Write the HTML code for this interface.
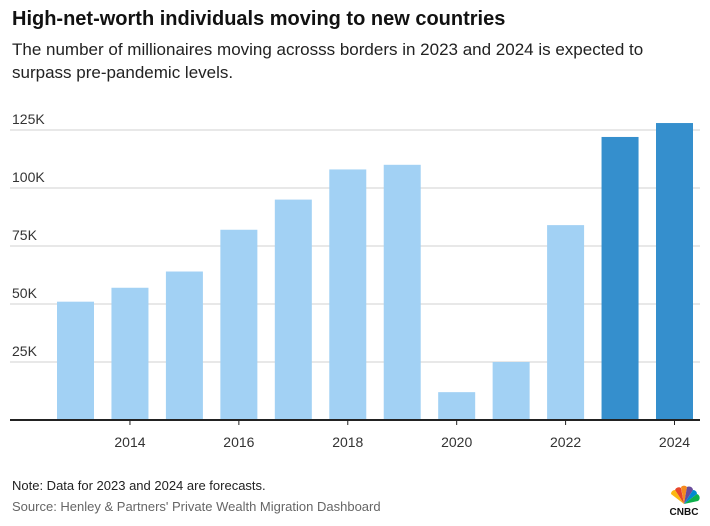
<!DOCTYPE html>
<html><head><meta charset="utf-8"><style>
body{margin:0;background:#fff;font-family:"Liberation Sans",sans-serif;}
#wrap{position:relative;width:710px;height:526px;overflow:hidden;}
.t{position:absolute;white-space:nowrap;}
</style></head><body>
<div id="wrap">
<div class="t" style="left:12px;top:8px;font-size:20px;font-weight:bold;color:#111;">High-net-worth individuals moving to new countries</div>
<div class="t" style="left:12px;top:38px;font-size:17px;color:#222;line-height:23px;white-space:normal;width:690px;">The number of millionaires moving acrosss borders in 2023 and 2024 is expected to surpass pre-pandemic levels.</div>
<svg id="chart" width="710" height="526" style="position:absolute;left:0;top:0"></svg>
<div class="t" style="left:12px;top:478px;font-size:13px;color:#222;">Note: Data for 2023 and 2024 are forecasts.</div>
<div class="t" style="left:12px;top:499px;font-size:13px;color:#666;">Source: Henley &amp; Partners' Private Wealth Migration Dashboard</div>
<svg width="36" height="36" style="position:absolute;left:666px;top:482px">
<path d="M18 22 L9 8 A4 4 0 0 1 15 6Z" fill="#e8462b"/><path d="M18 22 L15 5 A4 4 0 0 1 21 5Z" fill="#f68b1f"/><path d="M18 22 L21 5 A4 4 0 0 1 27 8Z" fill="#6a4c9c"/>
<path d="M18 22 L5 12 A4 4 0 0 1 9 8Z" fill="#fcb711"/><path d="M18 22 L27 8 A4 4 0 0 1 31 12Z" fill="#0089d0"/><path d="M18 22 L31 12 A4 4 0 0 1 32 19Z" fill="#0db14b"/>
<text x="18" y="33" text-anchor="middle" font-size="10" font-weight="bold" fill="#111" font-family="Liberation Sans,sans-serif">CNBC</text></svg>
</div>
<script>
const years=[2013,2014,2015,2016,2017,2018,2019,2020,2021,2022,2023,2024];
const values=[51,57,64,82,95,108,110,12,25,84,122,128];
const forecast=[false,false,false,false,false,false,false,false,false,false,true,true];
const yTicks=[25,50,75,100,125];
const yTickLabels=["25K","50K","75K","100K","125K"];
const xTickYears=[2014,2016,2018,2020,2022,2024];
const svg=document.getElementById('chart');const NS='http://www.w3.org/2000/svg';
const y0=420,pxPer=58/25;
const ys=v=>y0-v*pxPer;
const x0=75.5,step=(674.5-75.5)/11;
const xs=yr=>x0+(yr-years[0])*step;
function mk(tag,attrs){const e=document.createElementNS(NS,tag);for(const k in attrs)e.setAttribute(k,attrs[k]);svg.appendChild(e);return e;}
yTicks.forEach((v,i)=>{
 const g=mk('line',{x1:10,x2:700,y1:ys(v),y2:ys(v),stroke:'#d0d0d0','stroke-width':1});
 
 
 const t=mk('text',{x:12,y:ys(v)-6,'font-size':14,fill:'#333','font-family':'Liberation Sans,sans-serif'});
 t.textContent=yTickLabels[i];
 
 
});
years.forEach((yr,i)=>{
 const r=mk('rect',{x:xs(yr)-18.5,y:ys(values[i]),width:37,height:values[i]*pxPer,fill:forecast[i]?'#358fcd':'#a2d1f4'});
 
 
});
const ax=mk('line',{x1:10,x2:700,y1:y0,y2:y0,stroke:'#222','stroke-width':2});


xTickYears.forEach(yr=>{
 const tk=mk('line',{x1:xs(yr),x2:xs(yr),y1:y0,y2:y0+5,stroke:'#222','stroke-width':1});
 
 
 const t=mk('text',{x:xs(yr),y:447,'font-size':14,fill:'#333','text-anchor':'middle','font-family':'Liberation Sans,sans-serif'});
 t.textContent=yr;
 
 
});
</script>
</body></html>
